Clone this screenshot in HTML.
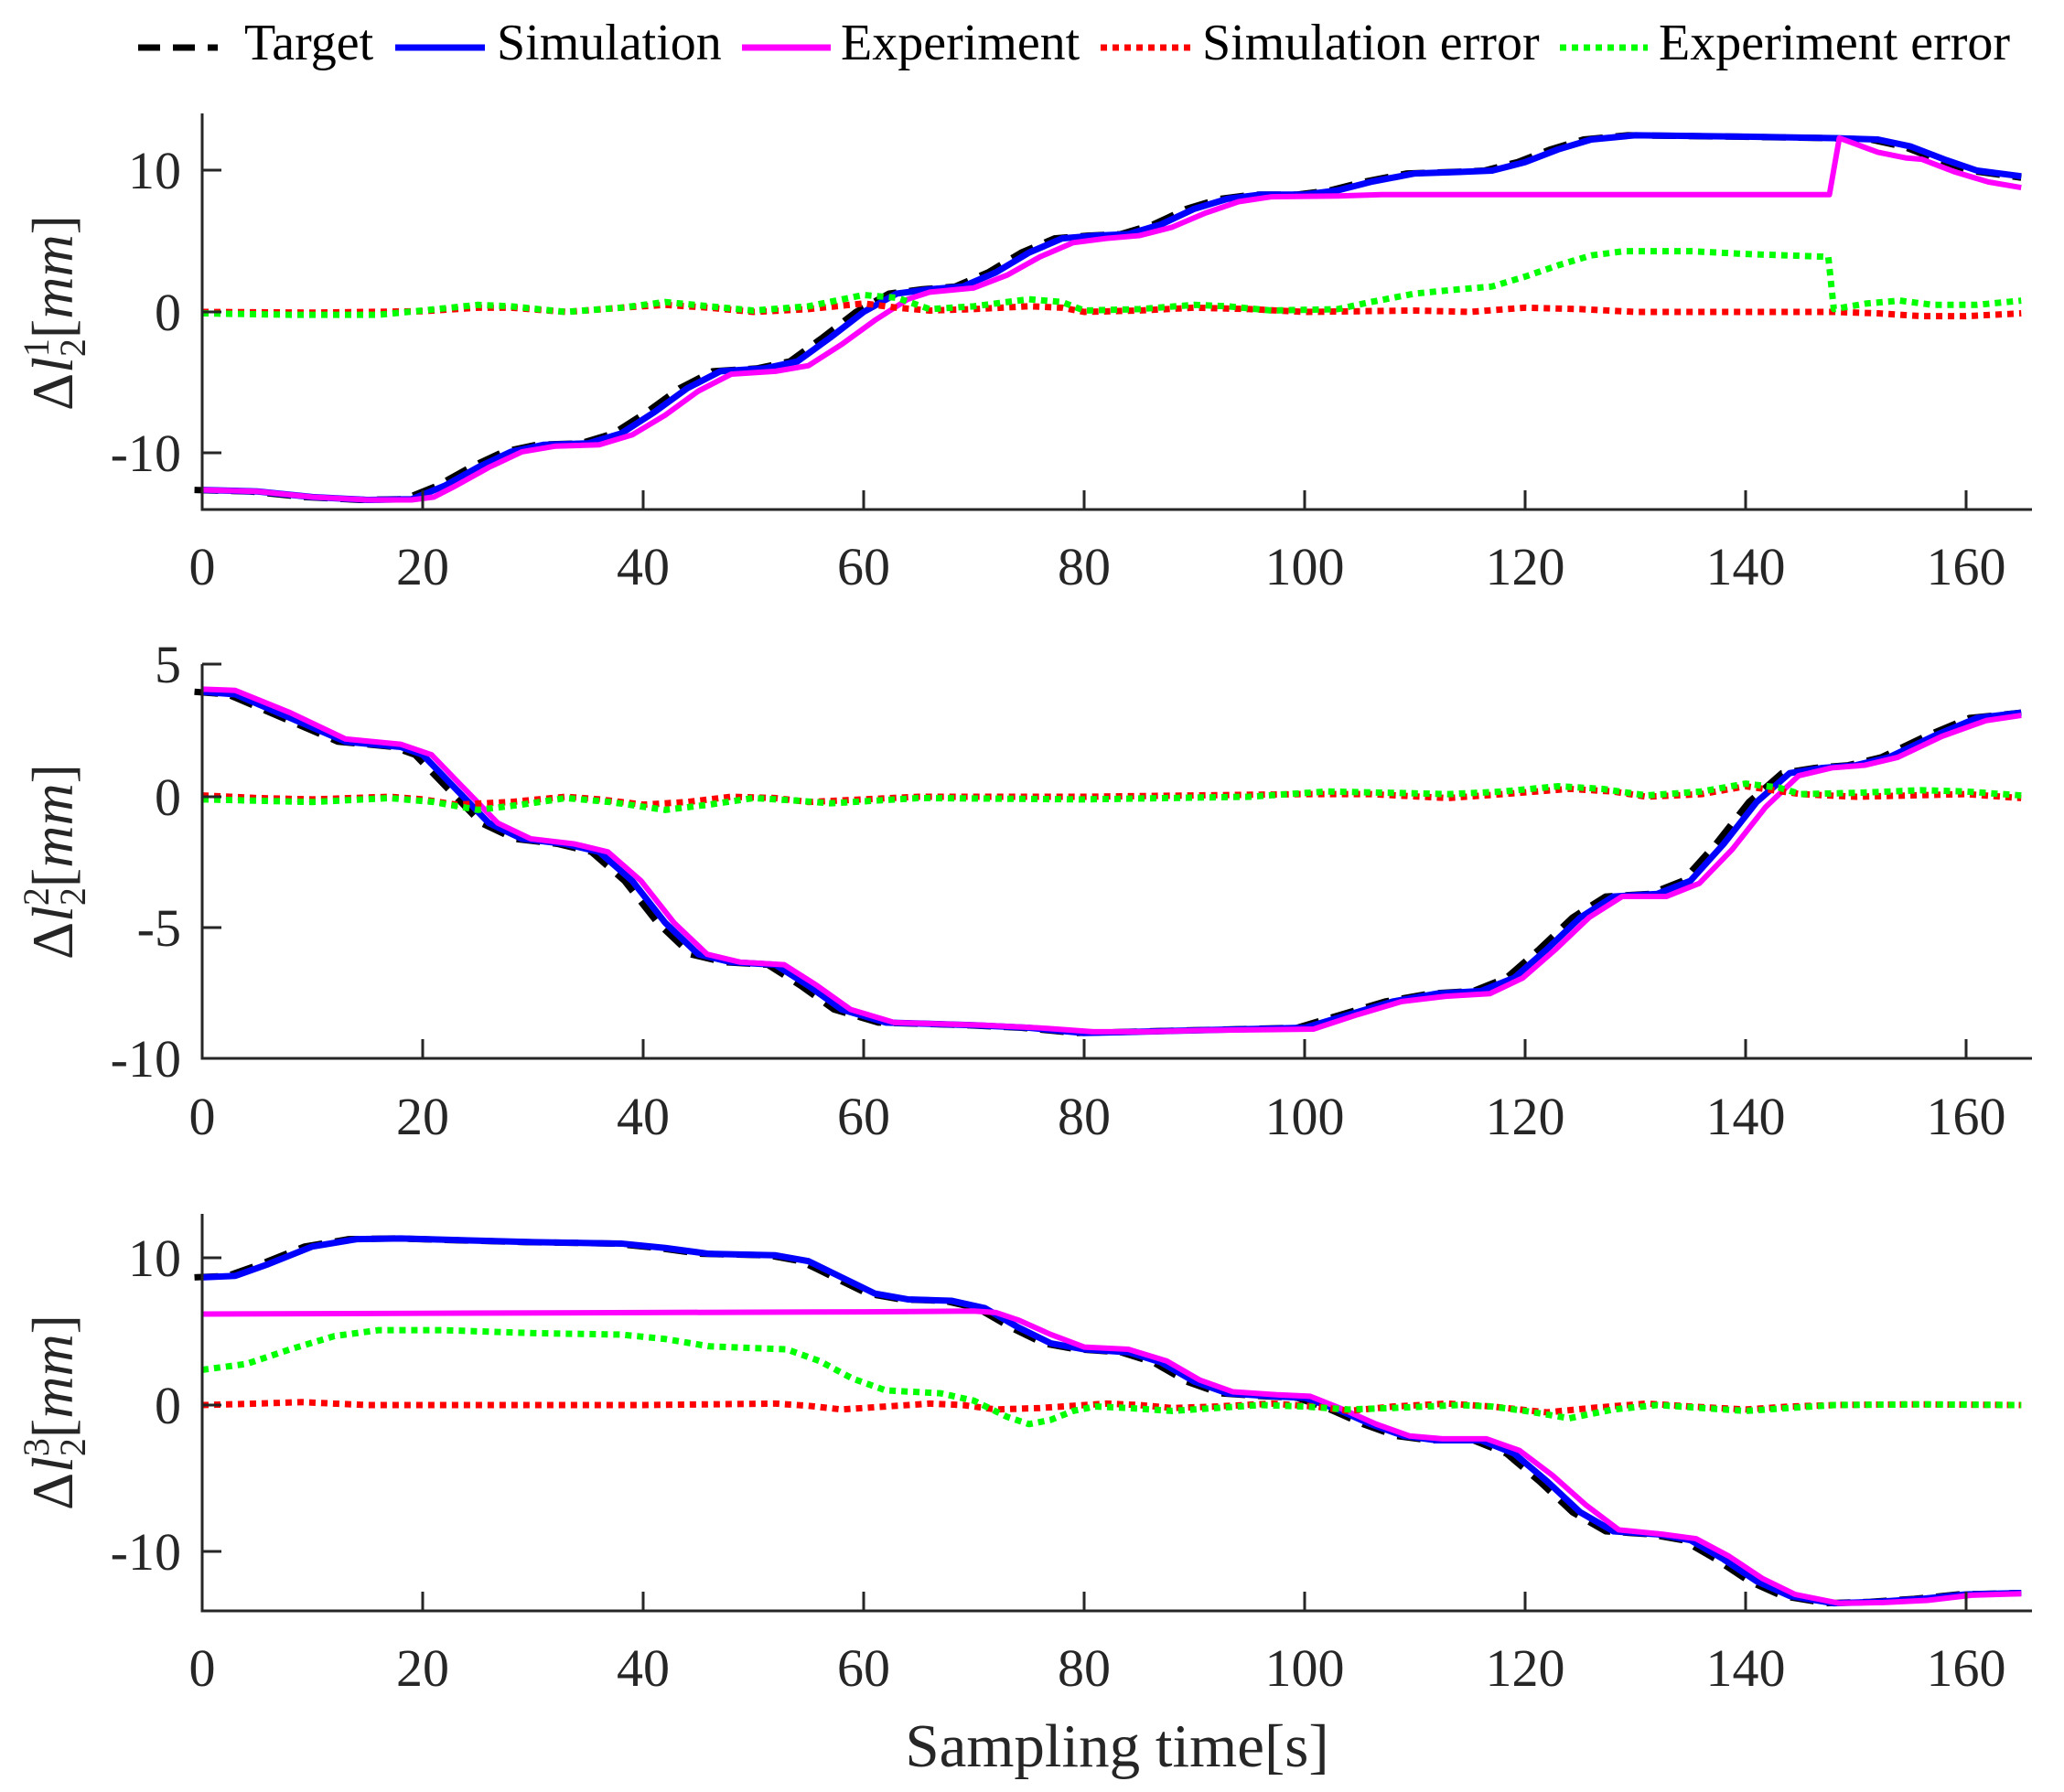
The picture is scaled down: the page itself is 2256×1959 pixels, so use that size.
<!DOCTYPE html>
<html><head><meta charset="utf-8"><style>
html,body{margin:0;padding:0;background:#fff}
svg{display:block}
text{font-family:"Liberation Serif",serif;fill:#262626}
.d{fill:none;vector-effect:non-scaling-stroke;stroke-linejoin:round}
.tg{stroke:#000;stroke-width:7;stroke-dasharray:26 14}
.sm{stroke:#0000ff;stroke-width:7}
.ex{stroke:#ff00ff;stroke-width:6}
.se{stroke:#ff0000;stroke-width:7;stroke-dasharray:7 6}
.ee{stroke:#00ff00;stroke-width:7;stroke-dasharray:7 6}
.ax{stroke:#262626;stroke-width:3;fill:none}
</style></head><body>
<svg width="2256" height="1959" viewBox="0 0 2256 1959" xmlns="http://www.w3.org/2000/svg">
<rect width="2256" height="1959" fill="#fff"/>

<g>
<line x1="151" y1="52" x2="238" y2="52" stroke="#000" stroke-width="7" stroke-dasharray="24 14"/>
<text x="267" y="65" font-size="56" style="fill:#000">Target</text>
<line x1="432" y1="52" x2="530" y2="52" stroke="#0000ff" stroke-width="7"/>
<text x="543" y="65" font-size="56" style="fill:#000">Simulation</text>
<line x1="811" y1="52" x2="908" y2="52" stroke="#ff00ff" stroke-width="7"/>
<text x="919" y="65" font-size="56" style="fill:#000">Experiment</text>
<line x1="1203" y1="52" x2="1304" y2="52" stroke="#ff0000" stroke-width="7" stroke-dasharray="7 6"/>
<text x="1314" y="65" font-size="56" style="fill:#000">Simulation error</text>
<line x1="1705" y1="52" x2="1801" y2="52" stroke="#00ff00" stroke-width="7" stroke-dasharray="7 6"/>
<text x="1813" y="65" font-size="56" style="fill:#000">Experiment error</text>
</g>

<g transform="translate(221,341) scale(12.05,-15.45)">
<polyline class="d tg" points="-0.7,-12.6 4.3,-12.7 9.3,-13.1 14.3,-13.3 18.3,-13.25 21.3,-12.3 24.3,-11 27.3,-9.9 30.3,-9.4 34.3,-9.3 37.3,-8.6 40.3,-7.1 43.3,-5.4 46.3,-4.2 50.3,-4.0 53.3,-3.5 56.3,-1.8 59.3,0 62.3,1.3 65.3,1.6 68.3,1.8 71.3,2.8 74.3,4.2 77.3,5.2 80.3,5.4 83.3,5.5 86.3,6.2 89.3,7.3 92.3,8.0 95.3,8.3 99.3,8.3 102.3,8.6 105.3,9.2 109.3,9.8 113.3,9.9 116.3,10.0 119.3,10.6 122.3,11.5 125.3,12.2 129.3,12.5 139.3,12.4 147.3,12.3 151.3,12.2 154.3,11.7 157.3,10.8 160.3,10 165,9.5"/>
<polyline class="d sm" points="0,-12.6 5,-12.7 10,-13.1 15,-13.3 19,-13.25 22,-12.3 25,-11 28,-9.9 31,-9.4 35,-9.3 38,-8.6 41,-7.1 44,-5.4 47,-4.2 51,-4.0 54,-3.5 57,-1.8 60,0 63,1.3 66,1.6 69,1.8 72,2.8 75,4.2 78,5.2 81,5.4 84,5.5 87,6.2 90,7.3 93,8.0 96,8.3 100,8.3 103,8.6 106,9.2 110,9.8 114,9.9 117,10.0 120,10.6 123,11.5 126,12.2 130,12.5 140,12.4 148,12.3 152,12.2 155,11.7 158,10.8 161,10 165,9.6"/>
<polyline class="d ex" points="0,-12.6 5,-12.7 10,-13.1 15,-13.3 19,-13.3 21,-13.1 23,-12.3 26,-11 29,-9.9 32,-9.5 36,-9.4 39,-8.7 42,-7.3 45,-5.6 48,-4.4 52,-4.2 55,-3.8 58,-2.3 61,-0.6 64,0.9 66,1.4 70,1.7 73,2.6 76,3.9 79,4.9 82,5.2 85,5.4 88,6.0 91,7.0 94,7.8 97,8.15 103,8.2 107,8.3 147.6,8.3 148.5,12.3 152,11.3 154.5,10.9 156,10.8 159,9.9 162,9.2 165,8.8"/>
<polyline class="d se" points="0,0 10,-0.05 20,0.05 25,0.3 28,0.3 33,0 38,0.3 42,0.5 46,0.3 50,0 55,0.2 60,0.6 63,0.3 66,0.1 70,0.2 75,0.4 78,0.3 80,0 85,0.1 90,0.3 95,0.2 100,0 110,0.1 115,0 120,0.3 125,0.2 130,0 140,0 148,0 152,-0.1 156,-0.3 160,-0.3 165,-0.1"/>
<polyline class="d ee" points="0,-0.1 8,-0.2 16,-0.2 20,0.1 25,0.5 28,0.4 33,0 38,0.3 42,0.7 46,0.4 50,0.1 55,0.4 60,1.2 63,1.0 66,0.2 70,0.4 75,0.9 78,0.7 80,0.1 85,0.2 90,0.5 93,0.4 97,0.1 103,0.2 106,0.7 110,1.3 114,1.6 117,1.8 120,2.5 123,3.3 126,4.0 129,4.3 135,4.3 140,4.1 147.5,3.9 148,0.2 151,0.6 154,0.8 157,0.5 161,0.5 165,0.8"/>
</g>

<g transform="translate(221,871) scale(12.05,-28.7)">
<polyline class="d tg" points="-0.7,4.0 2.3,3.9 7.3,3.0 12.3,2.1 17.3,1.9 19.3,1.6 22.3,0.3 25.3,-1 28.3,-1.6 32.3,-1.8 35.3,-2.1 38.3,-3.2 41.3,-4.8 44.3,-6.0 47.3,-6.3 51.3,-6.4 54.3,-7.2 57.3,-8.1 61.3,-8.6 69.3,-8.7 74.3,-8.8 79.3,-9.0 84.3,-8.95 89.3,-8.9 99.3,-8.8 103.3,-8.3 107.3,-7.8 111.3,-7.5 115.3,-7.4 118.3,-6.9 121.3,-5.8 124.3,-4.6 127.3,-3.8 131.3,-3.7 134.3,-3.2 137.3,-1.8 140.3,-0.2 143.3,0.9 146.3,1.1 149.3,1.2 152.3,1.5 156.3,2.3 160.3,3.0 165,3.2"/>
<polyline class="d sm" points="0,4.0 3,3.9 8,3.0 13,2.1 18,1.9 20,1.6 23,0.3 26,-1 29,-1.6 33,-1.8 36,-2.1 39,-3.2 42,-4.8 45,-6.0 48,-6.3 52,-6.4 55,-7.2 58,-8.1 62,-8.6 70,-8.7 75,-8.8 80,-9.0 85,-8.95 90,-8.9 100,-8.8 104,-8.3 108,-7.8 112,-7.5 116,-7.4 119,-6.9 122,-5.8 125,-4.6 128,-3.8 132,-3.7 135,-3.2 138,-1.8 141,-0.2 144,0.9 147,1.1 150,1.2 153,1.5 157,2.3 161,3.0 165,3.2"/>
<polyline class="d ex" points="0,4.1 3,4.05 8,3.2 13,2.2 18,2.0 20.8,1.6 23.8,0.3 26.8,-1 29.8,-1.6 33.8,-1.8 36.8,-2.1 39.8,-3.2 42.8,-4.8 45.8,-6.0 48.8,-6.3 52.8,-6.4 55.8,-7.2 58.8,-8.1 62.8,-8.6 70.8,-8.7 75.8,-8.8 80.8,-8.95 85.8,-8.95 90.8,-8.9 100.8,-8.85 104.8,-8.3 108.8,-7.8 112.8,-7.6 116.8,-7.5 119.8,-6.9 122.8,-5.8 125.8,-4.6 128.8,-3.8 132.8,-3.8 135.8,-3.3 138.8,-2.0 141.8,-0.4 144.8,0.8 147.8,1.1 150.8,1.2 153.8,1.5 157.8,2.3 161.8,2.9 165,3.1"/>
<polyline class="d se" points="0,0.05 5,-0.05 10,-0.1 17,0 20,-0.1 23,-0.3 28,-0.2 33,0 36,-0.1 40,-0.3 44,-0.2 48,0 52,-0.05 55,-0.2 60,-0.1 65,0 80,0 100,0.1 106,0.1 113,-0.05 118,0.1 124,0.3 128,0.2 131,0 136,0.1 140,0.4 145,0.1 150,0 160,0.1 165,-0.05"/>
<polyline class="d ee" points="0,-0.1 5,-0.15 10,-0.2 17,-0.05 21,-0.2 25,-0.5 29,-0.3 33,-0.05 37,-0.2 42,-0.5 46,-0.3 50,-0.05 54,-0.15 57,-0.25 61,-0.15 65,-0.05 80,-0.1 95,0 102,0.2 108,0.15 113,0.1 118,0.2 123,0.4 127,0.3 131,0.05 136,0.2 140,0.5 143,0.35 145,0.1 150,0.15 156,0.25 160,0.2 165,0.05"/>
</g>

<g transform="translate(221,1536) scale(12.05,-16.05)">
<polyline class="d tg" points="-0.7,8.7 2.3,8.8 5.3,9.6 9.3,10.8 13.3,11.3 17.3,11.35 24.3,11.2 29.3,11.1 37.3,11.0 41.3,10.7 45.3,10.3 51.3,10.2 54.3,9.8 57.3,8.7 60.3,7.6 63.3,7.2 67.3,7.1 70.3,6.6 73.3,5.3 76.3,4.2 79.3,3.8 83.3,3.6 86.3,2.9 89.3,1.6 92.3,0.8 96.3,0.6 99.3,0.5 102.3,-0.3 105.3,-1.3 108.3,-2.1 111.3,-2.4 115.3,-2.4 118.3,-3.3 121.3,-5.2 124.3,-7.3 127.3,-8.6 131.3,-8.8 134.3,-9.2 137.3,-10.5 140.3,-12.0 143.3,-13.0 147.3,-13.5 151.3,-13.4 155.3,-13.2 159.3,-12.9 165,-12.8"/>
<polyline class="d sm" points="0,8.7 3,8.8 6,9.6 10,10.8 14,11.3 18,11.35 25,11.2 30,11.1 38,11.0 42,10.7 46,10.3 52,10.2 55,9.8 58,8.7 61,7.6 64,7.2 68,7.1 71,6.6 74,5.3 77,4.2 80,3.8 84,3.6 87,2.9 90,1.6 93,0.8 97,0.6 100,0.5 103,-0.3 106,-1.3 109,-2.1 112,-2.4 116,-2.4 119,-3.3 122,-5.2 125,-7.3 128,-8.6 132,-8.8 135,-9.2 138,-10.5 141,-12.0 144,-13.0 148,-13.5 152,-13.4 156,-13.2 160,-12.9 165,-12.8"/>
<polyline class="d ex" points="0,6.2 20,6.25 40,6.3 60,6.35 70,6.4 72,6.3 74,5.8 77,4.8 80,3.95 84,3.8 87.5,3.0 90.5,1.7 93.5,0.9 97.5,0.7 100.5,0.6 103.5,-0.3 106.5,-1.3 109.5,-2.1 112.5,-2.3 116.5,-2.3 119.5,-3.1 122.5,-4.8 125.5,-6.8 128.5,-8.5 132.5,-8.8 135.5,-9.1 138.5,-10.3 141.5,-11.8 144.5,-12.9 148.5,-13.5 152.5,-13.45 156.5,-13.3 160.5,-12.95 165,-12.85"/>
<polyline class="d se" points="0,0 5,0.1 9,0.2 15,0 25,0 40,0 46,0.05 52,0.1 55,-0.05 58,-0.3 62,-0.1 66,0.1 69,0 72,-0.3 76,-0.2 82,0.1 85,0 88,-0.2 92,-0.1 97,0.1 101,-0.1 104,-0.4 108,-0.1 113,0.1 117,-0.1 122,-0.5 126,-0.2 131,0.1 135,-0.1 140,-0.3 144,-0.1 148,0 155,0.05 165,0"/>
<polyline class="d ee" points="0,2.4 4,2.8 8,3.8 12,4.7 16,5.1 22,5.1 30,4.9 38,4.8 42,4.5 46,4.0 53,3.8 56,3.0 59,1.8 62,1.0 67,0.8 70,0.3 73,-0.8 75,-1.3 77,-1.0 79,-0.4 81,-0.1 84,-0.2 88,-0.4 92,-0.2 96,0 100,-0.1 104,-0.3 108,-0.2 114,0 117,-0.1 120,-0.4 124,-0.9 128,-0.3 132,0 136,-0.2 140,-0.4 144,-0.2 148,0 156,0.05 165,0"/>
</g>

<g class="ax">
<path d="M221,124 V557 H2221"/>
<path d="M221,726 V1157 H2221"/>
<path d="M221,1327 V1761 H2221"/>
<path d="M221,186 H242 M221,341 H242 M221,495 H242"/>
<path d="M221,726 H242 M221,871 H242 M221,1014 H242 M221,1157 H242"/>
<path d="M221,1375 H242 M221,1536 H242 M221,1696 H242"/>
<path d="M462,557 v-21 M703,557 v-21 M944,557 v-21 M1185,557 v-21 M1426,557 v-21 M1667,557 v-21 M1908,557 v-21 M2149,557 v-21"/>
<path d="M462,1157 v-21 M703,1157 v-21 M944,1157 v-21 M1185,1157 v-21 M1426,1157 v-21 M1667,1157 v-21 M1908,1157 v-21 M2149,1157 v-21"/>
<path d="M462,1761 v-21 M703,1761 v-21 M944,1761 v-21 M1185,1761 v-21 M1426,1761 v-21 M1667,1761 v-21 M1908,1761 v-21 M2149,1761 v-21"/>
</g>

<g font-size="58" text-anchor="end">
<text x="198" y="206">10</text><text x="198" y="361">0</text><text x="198" y="515">-10</text>
<text x="198" y="746">5</text><text x="198" y="891">0</text><text x="198" y="1034">-5</text><text x="198" y="1177">-10</text>
<text x="198" y="1395">10</text><text x="198" y="1556">0</text><text x="198" y="1716">-10</text>
</g>

<g font-size="58" text-anchor="middle">
<text x="221" y="639">0</text><text x="462" y="639">20</text><text x="703" y="639">40</text><text x="944" y="639">60</text><text x="1185" y="639">80</text><text x="1426" y="639">100</text><text x="1667" y="639">120</text><text x="1908" y="639">140</text><text x="2149" y="639">160</text>
<text x="221" y="1240">0</text><text x="462" y="1240">20</text><text x="703" y="1240">40</text><text x="944" y="1240">60</text><text x="1185" y="1240">80</text><text x="1426" y="1240">100</text><text x="1667" y="1240">120</text><text x="1908" y="1240">140</text><text x="2149" y="1240">160</text>
<text x="221" y="1843">0</text><text x="462" y="1843">20</text><text x="703" y="1843">40</text><text x="944" y="1843">60</text><text x="1185" y="1843">80</text><text x="1426" y="1843">100</text><text x="1667" y="1843">120</text><text x="1908" y="1843">140</text><text x="2149" y="1843">160</text>
</g>

<g font-size="64">
<text transform="translate(79,342) rotate(-90)" text-anchor="middle">Δ<tspan font-style="italic">l</tspan><tspan font-size="40" dy="14">2</tspan><tspan font-size="40" dx="-20" dy="-40">1</tspan><tspan dy="26">[</tspan><tspan font-style="italic">mm</tspan>]</text>
<text transform="translate(79,942) rotate(-90)" text-anchor="middle">Δ<tspan font-style="italic">l</tspan><tspan font-size="40" dy="14">2</tspan><tspan font-size="40" dx="-20" dy="-40">2</tspan><tspan dy="26">[</tspan><tspan font-style="italic">mm</tspan>]</text>
<text transform="translate(79,1544) rotate(-90)" text-anchor="middle">Δ<tspan font-style="italic">l</tspan><tspan font-size="40" dy="14">2</tspan><tspan font-size="40" dx="-20" dy="-40">3</tspan><tspan dy="26">[</tspan><tspan font-style="italic">mm</tspan>]</text>
</g>

<text x="1221" y="1931" font-size="67" text-anchor="middle">Sampling time[s]</text>
</svg>
</body></html>
